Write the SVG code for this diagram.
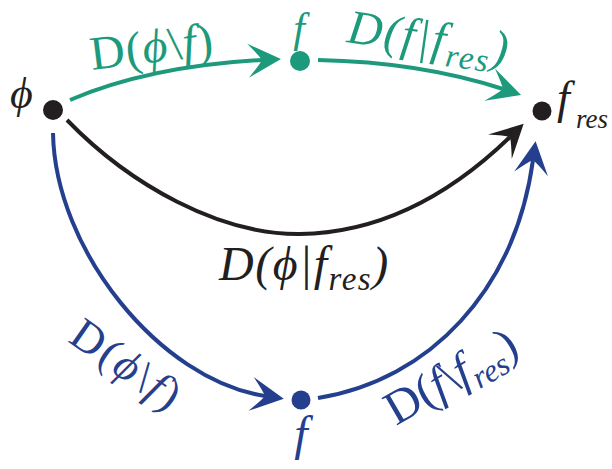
<svg xmlns="http://www.w3.org/2000/svg" width="612" height="469" viewBox="0 0 612 469">
<style>
.lbl{font-family:"Liberation Serif","DejaVu Serif",serif;}
.it{font-style:italic;}
</style>
<defs>
<marker id="ag" markerUnits="userSpaceOnUse" markerWidth="40" markerHeight="40" refX="0" refY="0" orient="auto" overflow="visible"><path d="M19,0 L-14,-17 Q-3,-5 0,0 Q-3,5 -14,17 Z" fill="#1c9a7b"/></marker>
<marker id="ab" markerUnits="userSpaceOnUse" markerWidth="40" markerHeight="40" refX="0" refY="0" orient="auto" overflow="visible"><path d="M19,0 L-14,-17 Q-3,-5 0,0 Q-3,5 -14,17 Z" fill="#243f8e"/></marker>
<marker id="ak" markerUnits="userSpaceOnUse" markerWidth="40" markerHeight="40" refX="0" refY="0" orient="auto" overflow="visible"><path d="M19,0 L-14,-17 Q-3,-5 0,0 Q-3,5 -14,17 Z" fill="#231f20"/></marker>
</defs>
<g id="connectors" fill="none" stroke-width="4">
<path stroke="#1c9a7b" d="M70,100 Q150,66 262,60" marker-end="url(#ag)"/>
<path stroke="#1c9a7b" d="M318,60 Q420,62 503,89" marker-end="url(#ag)"/>
<path stroke="#231f20" d="M67,120 C130,185 220,235 300,234 C380,233 450,195 510,137" marker-end="url(#ak)"/>
<path stroke="#243f8e" d="M53,133 C55,250 160,380 265,396" marker-end="url(#ab)"/>
<path stroke="#243f8e" d="M318,398 C430,380 515,290 533,160" marker-end="url(#ab)"/>
</g>
<g id="edge-labels" class="lbl">
<text font-size="48" letter-spacing="1" fill="#1c9a7b" transform="translate(92,70) rotate(-7)">D(<tspan class="it">ϕ</tspan>\<tspan class="it">f</tspan>)</text>
<text font-size="48" letter-spacing="2" class="it" fill="#1c9a7b" transform="translate(346,42) rotate(8)">D(f|f<tspan font-size="33" dy="10">res</tspan><tspan dy="-10">)</tspan></text>
<text font-size="48" letter-spacing="1.5" class="it" fill="#231f20" x="219" y="280">D(ϕ|f<tspan font-size="33" dy="10">res</tspan><tspan dy="-10">)</tspan></text>
<text font-size="45" letter-spacing="2.5" fill="#243f8e" transform="translate(67,341) rotate(35)">D(<tspan class="it">ϕ</tspan>\<tspan class="it">f</tspan>)</text>
<text font-size="48" fill="#243f8e" transform="translate(396,426) rotate(-30)">D(<tspan class="it">f</tspan>\<tspan class="it">f</tspan><tspan font-size="32" class="it" dy="10">res</tspan><tspan dy="-10">)</tspan></text>
</g>
<g id="node-phi" class="lbl">
<circle cx="53" cy="110" r="10" fill="#231f20"/>
<text class="it" fill="#231f20" x="10" y="108" font-size="44">ϕ</text>
</g>
<g id="node-f-top" class="lbl">
<circle cx="300" cy="61" r="10" fill="#1c9a7b"/>
<text class="it" fill="#1c9a7b" x="299" y="42" font-size="42" text-anchor="middle">f</text>
</g>
<g id="node-fres" class="lbl">
<circle cx="542" cy="111" r="9.5" fill="#231f20"/>
<text class="it" fill="#231f20" x="557" y="113" font-size="46">f<tspan x="576" font-size="27" dy="15">res</tspan></text>
</g>
<g id="node-f-bottom" class="lbl">
<circle cx="301" cy="400" r="9.5" fill="#243f8e"/>
<text class="it" fill="#243f8e" x="301" y="450" font-size="48" text-anchor="middle">f</text>
</g>
</svg>
